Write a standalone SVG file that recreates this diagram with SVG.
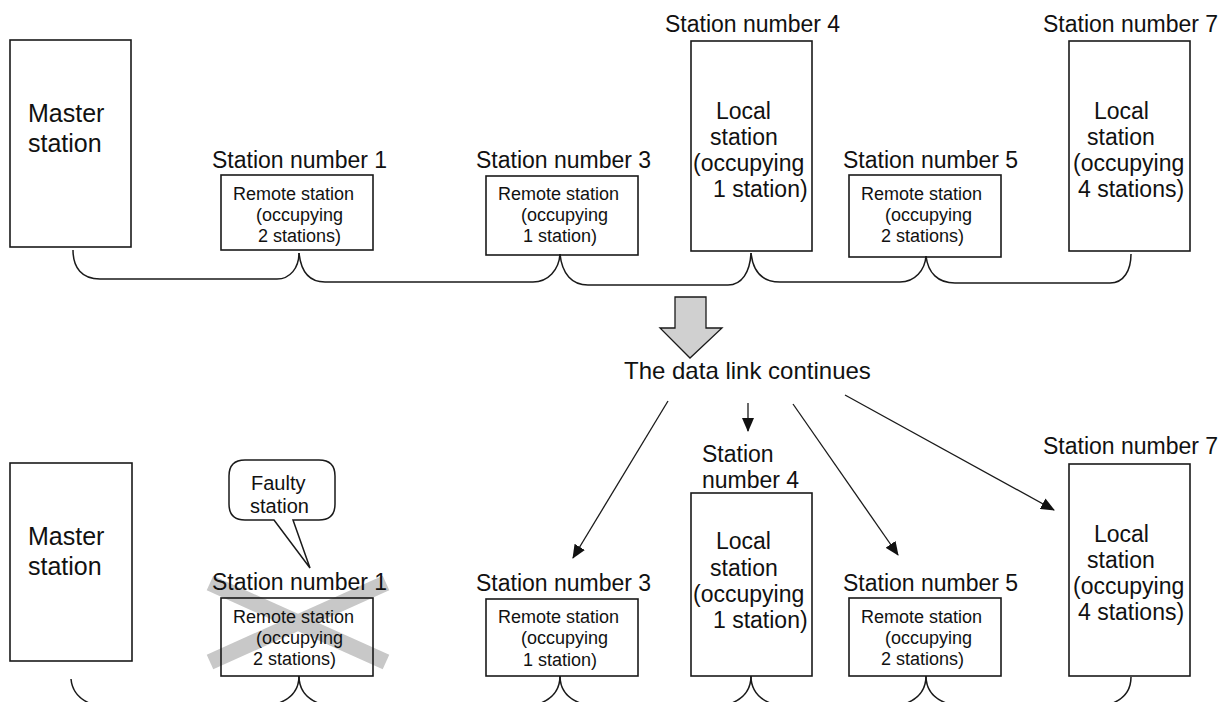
<svg xmlns="http://www.w3.org/2000/svg" width="1228" height="702" viewBox="0 0 1228 702">
<style>
.box{fill:none;stroke:#1a1a1a;stroke-width:1.6}
.con{fill:none;stroke:#1a1a1a;stroke-width:1.5}
.lbl{font-family:"Liberation Sans",Arial,sans-serif;font-size:23px;fill:#111}
.big{font-family:"Liberation Sans",Arial,sans-serif;font-size:25px;fill:#111}
.sm{font-family:"Liberation Sans",Arial,sans-serif;font-size:18px;fill:#111}
.bal{font-family:"Liberation Sans",Arial,sans-serif;font-size:20px;fill:#111}
.arr{fill:none;stroke:#1a1a1a;stroke-width:1.3}
</style>
<defs>
<marker id="ah" markerUnits="userSpaceOnUse" markerWidth="14" markerHeight="12" viewBox="0 0 14 12" refX="13" refY="6" orient="auto">
<path d="M0,0 L14,6 L0,12 Z" fill="#111"/>
</marker>
</defs>
<rect width="1228" height="702" fill="#fff"/>

<!-- Top row -->
<g id="top-master">
<rect class="box" x="10" y="40" width="121" height="207"/>
<text class="big" x="28" y="122">Master</text>
<text class="big" x="28" y="152">station</text>
</g>
<g id="top-st1">
<text class="lbl" x="212" y="168">Station number 1</text>
<rect class="box" x="221" y="175" width="152" height="75"/>
<text class="sm" x="233" y="200">Remote station</text>
<text class="sm" x="256" y="221">(occupying</text>
<text class="sm" x="258" y="242">2 stations)</text>
</g>
<g id="top-st3">
<text class="lbl" x="476" y="168">Station number 3</text>
<rect class="box" x="486" y="176" width="152" height="79"/>
<text class="sm" x="498" y="200">Remote station</text>
<text class="sm" x="521" y="221">(occupying</text>
<text class="sm" x="523" y="242">1 station)</text>
</g>
<g id="top-st4">
<text class="lbl" x="665" y="32">Station number 4</text>
<rect class="box" x="691" y="41" width="121" height="210"/>
<text class="lbl" x="716" y="119">Local</text>
<text class="lbl" x="710" y="145">station</text>
<text class="lbl" x="693" y="171">(occupying</text>
<text class="lbl" x="713" y="197">1 station)</text>
</g>
<g id="top-st5">
<text class="lbl" x="843" y="168">Station number 5</text>
<rect class="box" x="849" y="175" width="152" height="82"/>
<text class="sm" x="861" y="200">Remote station</text>
<text class="sm" x="885" y="221">(occupying</text>
<text class="sm" x="881" y="242">2 stations)</text>
</g>
<g id="top-st7">
<text class="lbl" x="1043" y="32">Station number 7</text>
<rect class="box" x="1069" y="41" width="121" height="210"/>
<text class="lbl" x="1094" y="119">Local</text>
<text class="lbl" x="1087" y="145">station</text>
<text class="lbl" x="1073" y="171">(occupying</text>
<text class="lbl" x="1078" y="197">4 stations)</text>
</g>

<!-- Transition -->
<g id="transition">
<polygon points="675,297 706,297 706,328 722,328 690,358 660,328 675,328" fill="#d0d0d0" stroke="#1a1a1a" stroke-width="1.3"/>
<text class="lbl" x="624" y="379" style="font-size:24px">The data link continues</text>
</g>

<!-- Bottom row -->
<g id="bot-master">
<rect class="box" x="10" y="463" width="122" height="198"/>
<text class="big" x="28" y="545">Master</text>
<text class="big" x="28" y="575">station</text>
</g>
<g id="bot-st1">
<g stroke="#c8c8c8" stroke-width="16" stroke-linecap="butt">
<line x1="210" y1="583" x2="386" y2="662"/>
<line x1="386" y1="583" x2="210" y2="662"/>
</g>
<text class="lbl" x="212" y="590">Station number 1</text>
<rect class="box" x="221" y="598" width="152" height="78"/>
<text class="sm" x="233" y="623">Remote station</text>
<text class="sm" x="256" y="644">(occupying</text>
<text class="sm" x="253" y="665">2 stations)</text>
</g>
<g id="faulty-balloon">
<path d="M245,460 H319 Q335,460 335,476 V504 Q335,520 319,520 H293 L310,568 L274,520 H245 Q229,520 229,504 V476 Q229,460 245,460 Z" fill="#fff" stroke="#1a1a1a" stroke-width="1.5"/>
<text class="bal" x="251" y="490">Faulty</text>
<text class="bal" x="250" y="513">station</text>
</g>
<g id="bot-st3">
<text class="lbl" x="476" y="591">Station number 3</text>
<rect class="box" x="486" y="599" width="152" height="77"/>
<text class="sm" x="498" y="623">Remote station</text>
<text class="sm" x="521" y="644">(occupying</text>
<text class="sm" x="523" y="666">1 station)</text>
</g>
<g id="bot-st4">
<text class="lbl" x="702" y="462">Station</text>
<text class="lbl" x="702" y="488">number 4</text>
<rect class="box" x="691" y="493" width="121" height="183"/>
<text class="lbl" x="716" y="549">Local</text>
<text class="lbl" x="710" y="576">station</text>
<text class="lbl" x="693" y="602">(occupying</text>
<text class="lbl" x="713" y="628">1 station)</text>
</g>
<g id="bot-st5">
<text class="lbl" x="843" y="591">Station number 5</text>
<rect class="box" x="849" y="598" width="152" height="78"/>
<text class="sm" x="861" y="623">Remote station</text>
<text class="sm" x="885" y="644">(occupying</text>
<text class="sm" x="881" y="665">2 stations)</text>
</g>
<g id="bot-st7">
<text class="lbl" x="1043" y="454">Station number 7</text>
<rect class="box" x="1069" y="464" width="121" height="212"/>
<text class="lbl" x="1094" y="542">Local</text>
<text class="lbl" x="1087" y="568">station</text>
<text class="lbl" x="1073" y="594">(occupying</text>
<text class="lbl" x="1078" y="620">4 stations)</text>
</g>

<!-- Connectors -->
<g id="connectors">
<path class="con" d="M73,250 C73,268 82,279 100,279 L277,279 C290,279 299,268 299,253"/>
<path class="con" d="M299,253 C301,272 310,282 325,282 L533,282 C548,282 559,270 560,254"/>
<path class="con" d="M560,254 C562,274 572,285 588,285 L728,285 C742,285 750,272 751,253"/>
<path class="con" d="M751,253 C753,272 763,282 780,282 L900,282 C915,282 925,270 926,256"/>
<path class="con" d="M926,256 C928,273 938,283 955,283 L1110,283 C1124,283 1131,270 1131,254"/>

<path class="con" d="M71,679 C72,690 78,698 89,703"/>
<path class="con" d="M299,676 C299,689 292,698 279,703"/>
<path class="con" d="M299,676 C299,689 306,698 318,703"/>
<path class="con" d="M560,676 C560,689 553,698 541,703"/>
<path class="con" d="M560,676 C560,689 567,698 580,703"/>
<path class="con" d="M751,676 C751,689 744,698 732,703"/>
<path class="con" d="M751,676 C751,689 758,698 770,703"/>
<path class="con" d="M926,676 C926,689 919,698 907,703"/>
<path class="con" d="M926,676 C926,689 933,698 946,703"/>
<path class="con" d="M1131,677 C1131,689 1125,698 1113,703"/>

<line class="arr" x1="668" y1="401" x2="573" y2="558" marker-end="url(#ah)"/>
<line class="arr" x1="748" y1="403" x2="748" y2="431" marker-end="url(#ah)"/>
<line class="arr" x1="793" y1="404" x2="898" y2="555" marker-end="url(#ah)"/>
<line class="arr" x1="845" y1="395" x2="1054" y2="510" marker-end="url(#ah)"/>
</g>
</svg>
